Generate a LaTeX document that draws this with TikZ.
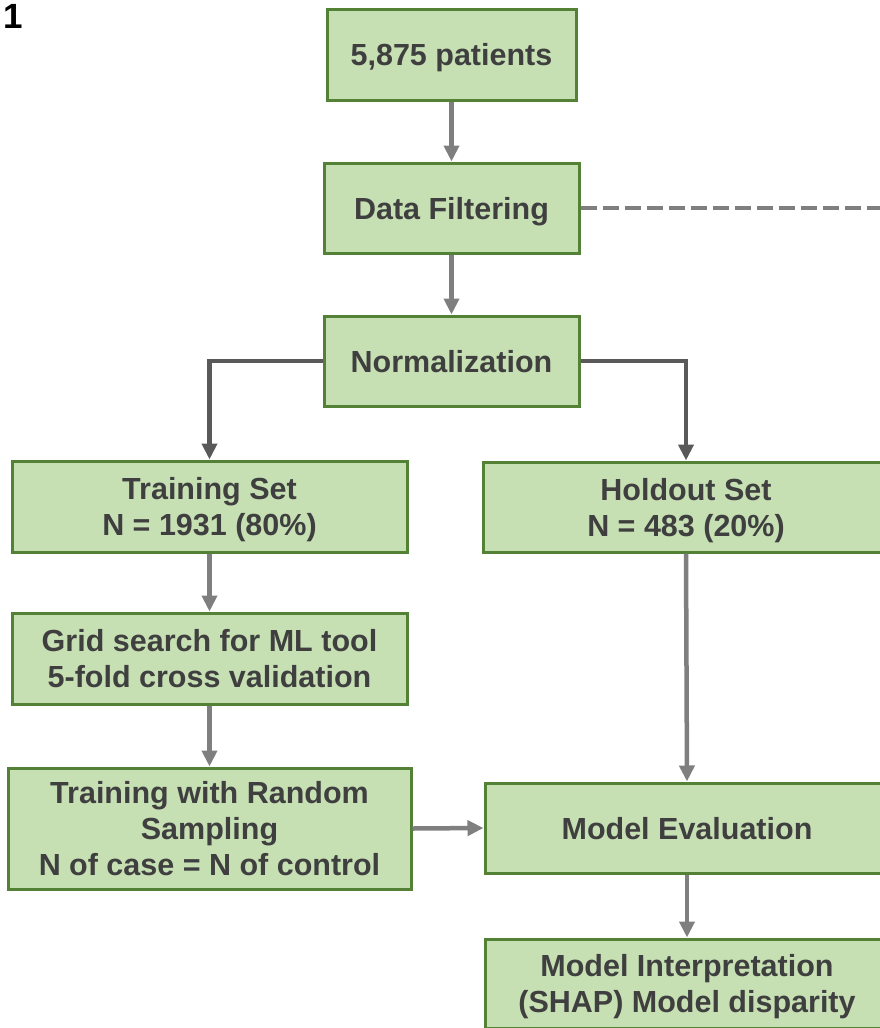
\documentclass[tikz,border=0pt]{standalone}
\usepackage{fontspec}
\setmainfont{Liberation Sans}
\usetikzlibrary{arrows.meta}
\definecolor{boxfill}{HTML}{C6E0B4}
\definecolor{boxline}{HTML}{538135}
\definecolor{txt}{HTML}{3F3F3F}
\definecolor{arrgray}{HTML}{7F7F7F}
\definecolor{darkarr}{HTML}{595959}
\tikzset{
  flowbox/.style={draw=boxline, fill=boxfill, line width=3pt, inner sep=0pt,
    text=txt, align=center, text depth=0pt, font=\fontsize{30.5}{36}\selectfont\bfseries},
  arr/.style={draw=arrgray, line width=4.5pt, -{Triangle[length=16pt,width=15pt]}},
  darr/.style={draw=darkarr, line width=4.5pt, -{Triangle[length=16pt,width=15pt]}},
  dashline/.style={draw=arrgray, line width=4pt, dash pattern=on 16pt off 6pt}
}
\begin{document}
\begin{tikzpicture}[x=1pt,y=-1pt]
\useasboundingbox (0,0) rectangle (880,1028);
\clip (0,0) rectangle (880,1028);
\node[font=\fontsize{35}{40}\selectfont\bfseries, text=black, inner sep=0pt] (lbl) at (13.5,16) {1};
\node[flowbox, minimum width=249pt, minimum height=91pt] (pat) at (451.5,54.5) {5,875 patients};
\node[flowbox, minimum width=255pt, minimum height=90pt] (filt) at (451.5,208) {Data Filtering};
\node[flowbox, minimum width=255pt, minimum height=90pt] (norm) at (451.5,361) {Normalization};
\node[flowbox, minimum width=395pt, minimum height=91pt] (train) at (209.5,506.5) {Training Set\\N = 1931 (80\%)};
\node[flowbox, minimum width=406pt, minimum height=90pt] (hold) at (686,507) {Holdout Set\\N = 483 (20\%)};
\node[flowbox, minimum width=395pt, minimum height=91pt] (grid) at (209.5,658.5) {Grid search for ML tool\\5-fold cross validation};
\node[flowbox, minimum width=403pt, minimum height=121pt] (rs) at (209.5,828.5) {Training with Random\\Sampling\\N of case = N of control};
\node[flowbox, minimum width=404pt, minimum height=90pt] (eval) at (687,828) {Model Evaluation};
\node[flowbox, minimum width=404pt, minimum height=89pt] (interp) at (687,983.5) {Model Interpretation\\(SHAP) Model disparity};
\coordinate (dashend) at (882,208);
\draw[arr] (pat) -- (filt);
\draw[arr] (filt) -- (norm);
\draw[dashline] (filt.east) -- (dashend);
\draw[darr] (norm.west) -| (train.north);
\draw[darr] (norm.east) -| (hold.north);
\draw[arr] (train) -- (grid);
\draw[arr] (grid) -- (rs);
\draw[arr] (hold.south) -- (eval.north);
\draw[arr] (rs.east) -- (eval.west);
\draw[arr] (eval) -- (interp);
\end{tikzpicture}
\end{document}
